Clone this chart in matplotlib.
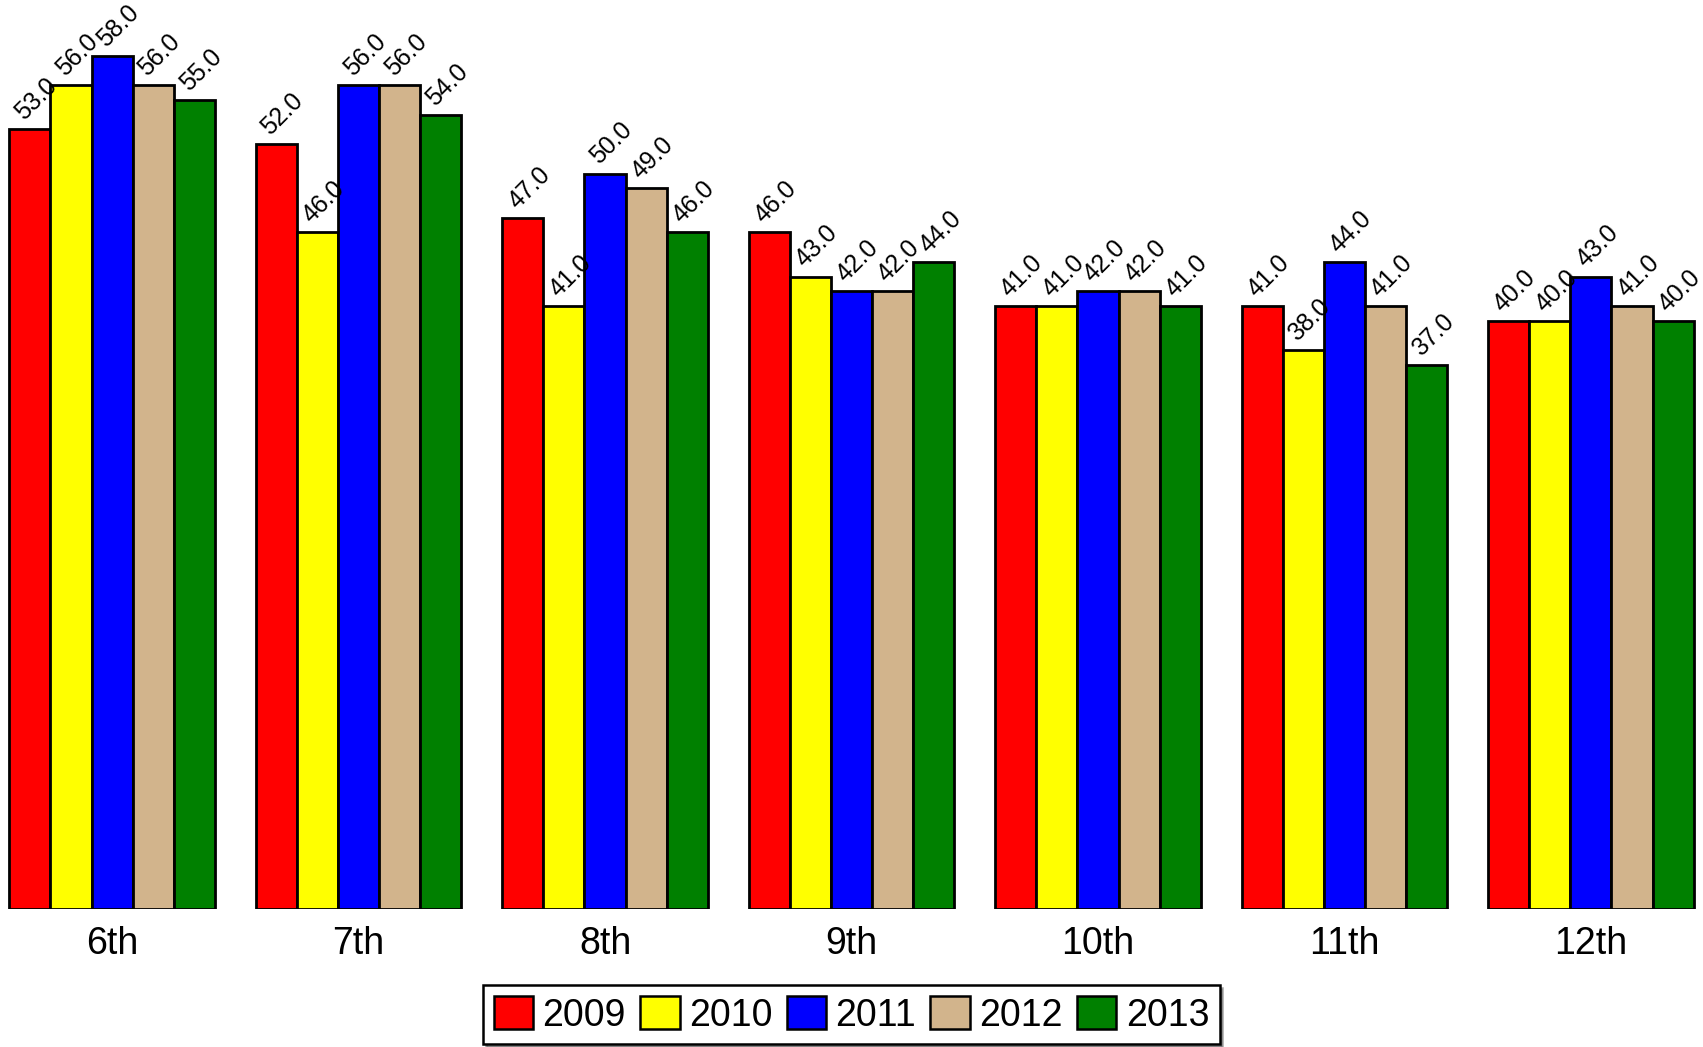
import numpy as np
import matplotlib.pyplot as plt

plt.rcParams['font.family'] = ['Liberation Sans', 'DejaVu Sans']

# 数据
grades = ['6th', '7th', '8th', '9th', '10th', '11th', '12th']
years = ['2009', '2010', '2011', '2012', '2013']
colors = ['#FF0000', '#FFFF00', '#0000FF', '#D2B48C', '#008000']
v2009 = [53, 52, 47, 46, 41, 41, 40]
v2010 = [56, 46, 41, 43, 41, 38, 40]
v2011 = [58, 56, 50, 42, 42, 44, 43]
v2012 = [56, 56, 49, 42, 42, 41, 41]
v2013 = [55, 54, 46, 44, 41, 37, 40]
series = [v2009, v2010, v2011, v2012, v2013]

fig = plt.figure(figsize=(17.03, 10.47), dpi=100)
ax = fig.add_axes([0, 0.1318, 1, 0.8682])

x = np.arange(len(grades))
w = 0.167
for i, (vals, c, yr) in enumerate(zip(series, colors, years)):
    pos = x + (i - 2) * w
    ax.bar(pos, vals, width=w, color=c, edgecolor='black', linewidth=2.0, label=yr)
    for px, v in zip(pos, vals):
        ax.text(px - w / 2 + 0.06, v + 0.55, f'{v:.1f}', rotation=45,
                rotation_mode='anchor', ha='left', va='baseline', fontsize=17.8)

ax.set_xlim(-0.455, 6.455)
ax.set_ylim(0, 61.8)
ax.set_xticks(x)
ax.set_xticklabels(grades, fontsize=27)
ax.tick_params(axis='x', length=0, pad=12)
ax.set_yticks([])
for s in ax.spines.values():
    s.set_visible(False)

leg = fig.legend(loc='lower center', bbox_to_anchor=(0.5, 0.0), ncol=5, fontsize=27,
                 fancybox=False, shadow=True, edgecolor='black', framealpha=1,
                 handlelength=1.05, handleheight=1.0, handletextpad=0.25,
                 columnspacing=0.38, borderpad=0.28, borderaxespad=0.08)
leg.get_frame().set_linewidth(1.8)
for h in leg.legend_handles:
    h.set_linewidth(1.8)

fig.savefig('out.png', dpi=100)
